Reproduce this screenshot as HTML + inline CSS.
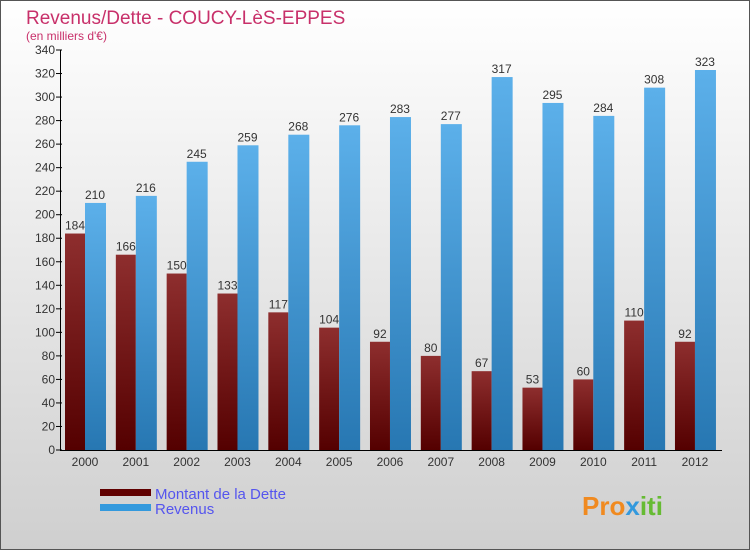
<!DOCTYPE html>
<html><head><meta charset="utf-8"><style>
html,body{margin:0;padding:0}
body{width:750px;height:550px;overflow:hidden;font-family:"Liberation Sans",sans-serif}
</style></head><body>
<svg id="chart" width="750" height="550" xmlns="http://www.w3.org/2000/svg">
<defs>
<linearGradient id="bg" x1="0" y1="0" x2="0" y2="1"><stop offset="0" stop-color="#ffffff"/><stop offset="1" stop-color="#cfcfcf"/></linearGradient>
<linearGradient id="gd" x1="0" y1="0" x2="0" y2="1"><stop offset="0" stop-color="#8e2e2e"/><stop offset="1" stop-color="#540000"/></linearGradient>
<linearGradient id="gr" x1="0" y1="0" x2="0" y2="1"><stop offset="0" stop-color="#5cb0ea"/><stop offset="1" stop-color="#2777b2"/></linearGradient>
</defs>
<rect x="0.5" y="0.5" width="749" height="549" fill="url(#bg)" stroke="#555"/>
<text x="26" y="24" font-size="19" fill="#c8306a">Revenus/Dette - COUCY-LèS-EPPES</text>
<text x="26" y="40" font-size="12" fill="#c8306a">(en milliers d'€)</text>
<g id="plot"></g>
<rect x="100" y="489" width="51" height="7" fill="#600000"/>
<text x="155" y="499" font-size="15" fill="#5555ee">Montant de la Dette</text>
<rect x="100" y="504" width="51" height="7" fill="#3399dd"/>
<text x="155" y="514" font-size="15" fill="#5555ee">Revenus</text>
<text x="582" y="515" font-size="26" font-weight="bold" fill="#f08a20">Pro<tspan fill="#3399dd">x</tspan><tspan fill="#66bb33">iti</tspan></text>
</svg>
<script>
const years=["2000","2001","2002","2003","2004","2005","2006","2007","2008","2009","2010","2011","2012"];
const dette=[184,166,150,133,117,104,92,80,67,53,60,110,92];
const revenus=[210,216,245,259,268,276,283,277,317,295,284,308,323];
const yTicks=[0,20,40,60,80,100,120,140,160,180,200,220,240,260,280,300,320,340];
const NS="http://www.w3.org/2000/svg";
const g=document.getElementById('plot');
const y0=450,yTop=50,yMax=340;
const y=v=>y0-(v/yMax)*(y0-yTop);
const x=i=>85+i*50.83;
function mk(t,a){const e=document.createElementNS(NS,t);for(const k in a)e.setAttribute(k,a[k]);g.appendChild(e);return e;}
yTicks.forEach(v=>{
 const l=mk('line',{x1:56,x2:62,y1:y(v),y2:y(v),stroke:'#000'});
 
 
 const t=mk('text',{x:55,y:y(v)+4,'font-size':12,'text-anchor':'end',fill:'#333'});
 t.textContent=v;
 
 
});
years.forEach((yr,i)=>{
 const cx=x(i);
 const bd=mk('rect',{x:cx-20,y:y(dette[i]),width:20,height:y0-y(dette[i]),fill:'url(#gd)'});
 
 
 const br=mk('rect',{x:cx,y:y(revenus[i]),width:21,height:y0-y(revenus[i]),fill:'url(#gr)'});
 
 
 const ld=mk('text',{x:cx-10,y:y(dette[i])-4,'font-size':12,'text-anchor':'middle',fill:'#333'});
 ld.textContent=dette[i];
 
 
 const lr=mk('text',{x:cx+10,y:y(revenus[i])-4,'font-size':12,'text-anchor':'middle',fill:'#333'});
 lr.textContent=revenus[i];
 
 
 const xl=mk('text',{x:cx,y:466,'font-size':12,'text-anchor':'middle',fill:'#333'});
 xl.textContent=yr;
 
 
});
const ya=mk('line',{x1:60.5,x2:60.5,y1:yTop,y2:y0,stroke:'#000'});


const xa=mk('line',{x1:60,x2:722,y1:y0+0.5,y2:y0+0.5,stroke:'#000'});


</script>
</body></html>
